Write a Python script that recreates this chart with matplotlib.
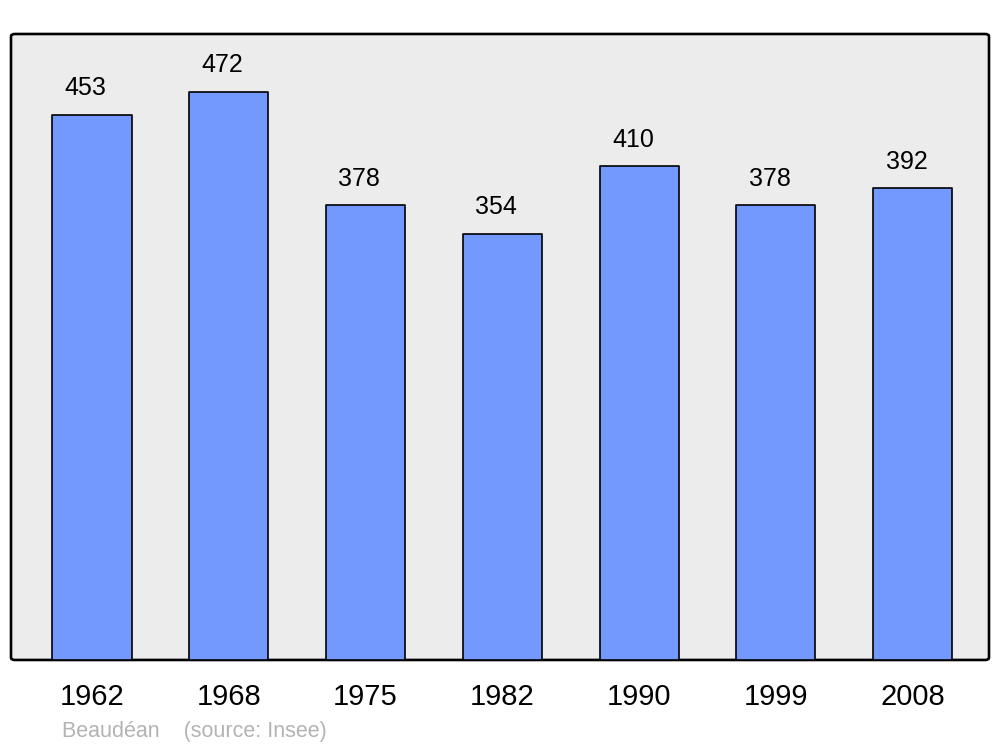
import matplotlib
matplotlib.use("Agg")
from matplotlib import pyplot as plt
from matplotlib.patches import FancyBboxPatch

annees = ["1962", "1968", "1975", "1982", "1990", "1999", "2008"]
population = [453, 472, 378, 354, 410, 378, 392]

plt.rcParams['font.family'] = ['Liberation Sans', 'DejaVu Sans']

fig = plt.figure(figsize=(10, 7.47), dpi=100)
ax = fig.add_axes([0.011, 0.1165, 0.978, 0.838])
ax.set_facecolor("none")

# cadre arrondi
cadre = FancyBboxPatch((0, 0), 1, 1, boxstyle="round,pad=0,rounding_size=0.004",
                       transform=ax.transAxes, facecolor="#ececec",
                       edgecolor="black", linewidth=1.9, clip_on=False, zorder=0)
ax.add_patch(cadre)

x = range(len(annees))
barres = ax.bar(x, population, width=0.578, color="#7399ff",
                edgecolor="black", linewidth=1.2, zorder=2)
for b in barres:
    b.set_joinstyle("round")

for i, v in zip(x, population):
    ax.annotate(str(v), (i, v), xytext=(-4.5, 19), textcoords="offset points",
                ha="center", va="center", fontsize=18, color="black")

ax.set_xlim(-0.592, 6.558)
ax.set_ylim(0, 520)
ax.set_xticks(list(x))
ax.set_xticklabels(annees, fontsize=21)
ax.tick_params(axis="x", length=0, pad=16.5)
ax.set_yticks([])
for s in ax.spines.values():
    s.set_visible(False)

fig.text(0.062, 1 - 731 / 747, "Beaudéan    (source: Insee)", fontsize=15.5,
         color="#b3b3b3", va="center", ha="left")

fig.savefig("out.png", dpi=100)
